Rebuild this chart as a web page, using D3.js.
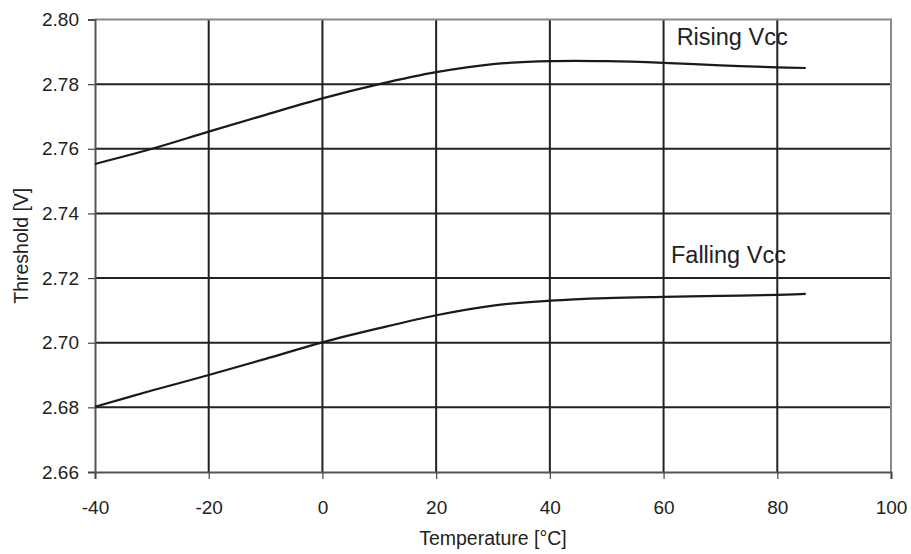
<!DOCTYPE html>
<html>
<head>
<meta charset="utf-8">
<script src="https://cdn.jsdelivr.net/npm/d3@7"></script>
<style>
  body { margin: 0; background: #fff; }
  svg text { font-family: "Liberation Sans", Arial, sans-serif; fill: #222; }
</style>
</head>
<body>
<svg id="chart" width="911" height="554"></svg>
<script>
// temperature points (°C)
const temps = [-40, -30, -20, -10, 0, 10, 20, 30, 40, 50, 60, 70, 80, 85];
// threshold readings (V)
const risingVcc = [2.7553, 2.7600, 2.7653, 2.7705, 2.7756, 2.7800, 2.7837, 2.7862, 2.7871, 2.7871, 2.7866, 2.7858, 2.7852, 2.7850];
const fallingVcc = [2.6802, 2.6852, 2.6900, 2.6950, 2.7001, 2.7045, 2.7085, 2.7115, 2.7130, 2.7138, 2.7142, 2.7145, 2.7148, 2.7151];
const xTicks = [-40, -20, 0, 20, 40, 60, 80, 100];
const yTicks = [2.66, 2.68, 2.70, 2.72, 2.74, 2.76, 2.78, 2.80];
const seriesLabels = [
  { name: 'Rising Vcc', x: 62.3, y: 2.7921 },
  { name: 'Falling Vcc', x: 61.3, y: 2.7248 }
];

const svg = d3.select('#chart');
const margin = { left: 95, top: 19.5, right: 20, bottom: 82 };
const width = 911, height = 554;

let x = d3.scaleLinear().domain([-40, 100]).range([margin.left, width - margin.right]);
let y = d3.scaleLinear().domain([2.66, 2.80]).range([height - margin.bottom, margin.top]);

// grid
svg.append('g')
    .selectAll('line')
    .data(xTicks.slice(1, -1))
    .enter()
    .append('line')
    .attr('x1', d => x(d)).attr('x2', d => x(d))
    .attr('y1', y(2.80)).attr('y2', y(2.66))
    .attr('stroke', '#222').attr('stroke-width', 2);
svg.append('g')
    .selectAll('line')
    .data(yTicks.slice(1, -1))
    .enter()
    .append('line')
    .attr('x1', x(-40)).attr('x2', x(100))
    .attr('y1', d => y(d)).attr('y2', d => y(d))
    .attr('stroke', '#222').attr('stroke-width', 2);

// top and right border
svg.append('path')
    .attr('d', `M${x(-40)},${y(2.80)}H${x(100)}V${y(2.66)}`)
    .attr('fill', 'none').attr('stroke', '#888').attr('stroke-width', 2);

// axes
let xAxis = svg.append('g')
    .attr('transform', 'translate(0,' + y(2.66) + ')')
    .call(d3.axisBottom(x).tickValues(xTicks).tickSize(7).tickPadding(22).tickFormat(d => String(d)));
let yAxis = svg.append('g')
    .attr('transform', 'translate(' + x(-40) + ',0)')
    .call(d3.axisLeft(y).tickValues(yTicks).tickSize(7).tickPadding(9).tickFormat(d3.format('.2f')));
[xAxis, yAxis].forEach(a => {
    a.select('.domain').attr('stroke', '#555').attr('stroke-width', 2);
    a.selectAll('.tick line').attr('stroke', '#444').attr('stroke-width', 1.2);
    a.selectAll('.tick text').attr('font-size', 19).style('fill', '#222');
});

// series
let line = d3.line()
    .x((d, i) => x(temps[i]))
    .y(d => y(d))
    .curve(d3.curveCatmullRom.alpha(0.5));
[risingVcc, fallingVcc].forEach(s => {
    svg.append('path')
        .datum(s)
        .attr('d', line)
        .attr('fill', 'none')
        .attr('stroke', '#1a1a1a')
        .attr('stroke-width', 2.2);
});

svg.selectAll('.series-label')
    .data(seriesLabels)
    .enter()
    .append('text')
    .attr('class', 'series-label')
    .attr('x', d => x(d.x))
    .attr('y', d => y(d.y))
    .attr('font-size', 23.5)
    .text(d => d.name);

// axis titles
svg.append('text')
    .attr('x', (x(-40) + x(100)) / 2)
    .attr('y', 545)
    .attr('text-anchor', 'middle')
    .attr('font-size', 19.5)
    .text('Temperature [°C]');
svg.append('text')
    .attr('transform', 'translate(28,' + (y(2.66) + y(2.80)) / 2 + ') rotate(-90)')
    .attr('text-anchor', 'middle')
    .attr('font-size', 19.5)
    .text('Threshold [V]');
</script>
</body>
</html>
